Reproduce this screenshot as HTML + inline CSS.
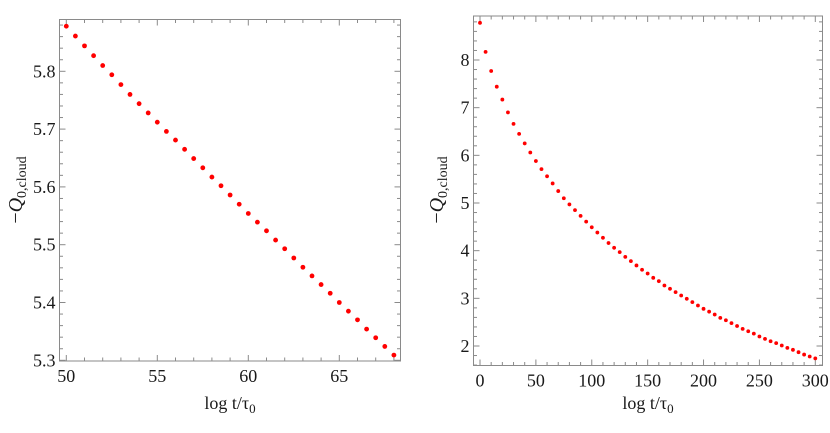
<!DOCTYPE html>
<html><head><meta charset="utf-8">
<style>
html,body{margin:0;padding:0;background:#fff;}
svg{display:block;}
svg text{font-family:"Liberation Serif","DejaVu Serif",serif;}
</style></head>
<body>
<svg id="chart" width="830" height="433" viewBox="0 0 830 433" font-family="Liberation Serif, serif"></svg>
<script>
// Left panel data
const leftX = [50,50.5,51,51.5,52,52.5,53,53.5,54,54.5,55,55.5,56,56.5,57,57.5,58,58.5,59,59.5,60,60.5,61,61.5,62,62.5,63,63.5,64,64.5,65,65.5,66,66.5,67,67.5,68];
const leftY = [5.878,5.861,5.844,5.827,5.810,5.794,5.777,5.760,5.744,5.728,5.712,5.696,5.681,5.665,5.649,5.633,5.617,5.602,5.586,5.570,5.554,5.539,5.524,5.508,5.493,5.477,5.461,5.446,5.431,5.416,5.400,5.385,5.370,5.354,5.339,5.324,5.309];
const leftXTicks = [50,55,60,65];
const leftYTicks = [5.3,5.4,5.5,5.6,5.7,5.8];
// Right panel data
const rightX = [0,5,10,15,20,25,30,35,40,45,50,55,60,65,70,75,80,85,90,95,100,105,110,115,120,125,130,135,140,145,150,155,160,165,170,175,180,185,190,195,200,205,210,215,220,225,230,235,240,245,250,255,260,265,270,275,280,285,290,295,300];
const rightY = [8.78,8.17,7.77,7.44,7.17,6.90,6.66,6.45,6.25,6.06,5.88,5.71,5.56,5.41,5.25,5.10,4.97,4.85,4.73,4.61,4.49,4.38,4.27,4.16,4.06,3.97,3.87,3.78,3.69,3.60,3.52,3.43,3.36,3.27,3.20,3.13,3.06,2.99,2.92,2.85,2.78,2.72,2.66,2.59,2.54,2.48,2.42,2.36,2.31,2.26,2.20,2.15,2.10,2.06,2.01,1.96,1.92,1.87,1.82,1.78,1.74];
const rightXTicks = [0,50,100,150,200,250,300];
const rightYTicks = [2,3,4,5,6,7,8];

const NS='http://www.w3.org/2000/svg';
const svg=document.getElementById('chart');
function mk(tag,attrs,parent){const e=document.createElementNS(NS,tag);for(const k in attrs)e.setAttribute(k,attrs[k]);(parent||svg).appendChild(e);return e;}

function panel(o){
  const g=mk('g',{});
  
  
  const sx=v=>o.px0+(v-o.xv0)*(o.px1-o.px0)/(o.xv1-o.xv0);
  const sy=v=>o.py0+(v-o.yv0)*(o.py1-o.py0)/(o.yv1-o.yv0);
  const f=mk('rect',{x:o.L,y:o.T,width:o.R-o.L,height:o.B-o.T,fill:'none',stroke:'#8a8a8a','stroke-width':1},g);
  
  
  const xs=o.xTicks[1]-o.xTicks[0], xm=xs/o.xMinor;
  for(let v=Math.ceil((o.xmin)/xm)*xm; sx(v)<=o.R+0.1; v+=xm){
    const x=sx(v); if(x<o.L-0.1) continue;
    const major=Math.abs(v/xs-Math.round(v/xs))<1e-6; const len=major?6:3.5;
    mk('line',{x1:x,x2:x,y1:o.B,y2:o.B-len,stroke:'#8a8a8a'},g);
    mk('line',{x1:x,x2:x,y1:o.T,y2:o.T+len,stroke:'#8a8a8a'},g);
  }
  const ys=o.yTicks[1]-o.yTicks[0], ym=ys/o.yMinor;
  for(let k=Math.ceil(o.ymin/ym-1e-6); ; k++){
    const v=k*ym; const y=sy(v); if(y<o.T-0.1) break; if(y>o.B+0.1) continue;
    const major=Math.abs(v/ys-Math.round(v/ys))<1e-6; const len=major?6:3.5;
    mk('line',{x1:o.L,x2:o.L+len,y1:y,y2:y,stroke:'#8a8a8a'},g);
    mk('line',{x1:o.R,x2:o.R-len,y1:y,y2:y,stroke:'#8a8a8a'},g);
  }
  o.xTicks.forEach(v=>{const t=mk('text',{x:sx(v),y:o.B+21,'text-anchor':'middle','font-size':18,fill:'#1a1a1a'},g);t.textContent=v;
    
    });
  o.yTicks.forEach(v=>{const t=mk('text',{x:o.L-4,y:sy(v)+6,'text-anchor':'end','font-size':18,fill:'#1a1a1a'},g);t.textContent=o.yFmt(v);
    
    });
  o.xs.forEach((xv,i)=>{const c=mk('circle',{cx:sx(xv),cy:sy(o.ys[i]),r:o.r,fill:'#f00'},g);
    
    });
  const xt=mk('text',{x:(o.L+o.R)/2,y:409,'text-anchor':'middle','font-size':18,fill:'#1a1a1a'},g);
  xt.innerHTML='log t/τ<tspan font-size="13" dy="4">0</tspan>';
  
  
  const yt=mk('text',{transform:`translate(${o.ytx},${o.tyc}) rotate(-90)`,'text-anchor':'middle','font-size':20,fill:'#1a1a1a'},g);
  yt.innerHTML='−<tspan font-style="italic">Q</tspan><tspan font-size="14" dy="4">0,cloud</tspan>';
  
  
}

panel({name:'left-panel',L:59.5,R:400.5,T:19.5,B:361,
  px0:66.3,px1:339.3,xv0:50,xv1:65,py0:71.3,py1:360.3,yv0:5.8,yv1:5.3,
  xmin:49,ymin:5.29,xTicks:leftXTicks,yTicks:leftYTicks,xMinor:5,yMinor:5,
  yFmt:v=>v.toFixed(1),xs:leftX,ys:leftY,r:2.4,ytx:22,tyc:190});
panel({name:'right-panel',L:473.5,R:822.5,T:16,B:365.5,
  px0:480,px1:815.3,xv0:0,xv1:300,py0:60,py1:346,yv0:8,yv1:2,
  xmin:-10,ymin:1.6,xTicks:rightXTicks,yTicks:rightYTicks,xMinor:5,yMinor:5,
  yFmt:v=>v,xs:rightX,ys:rightY,r:1.9,ytx:443,tyc:190});
</script>
</body></html>
